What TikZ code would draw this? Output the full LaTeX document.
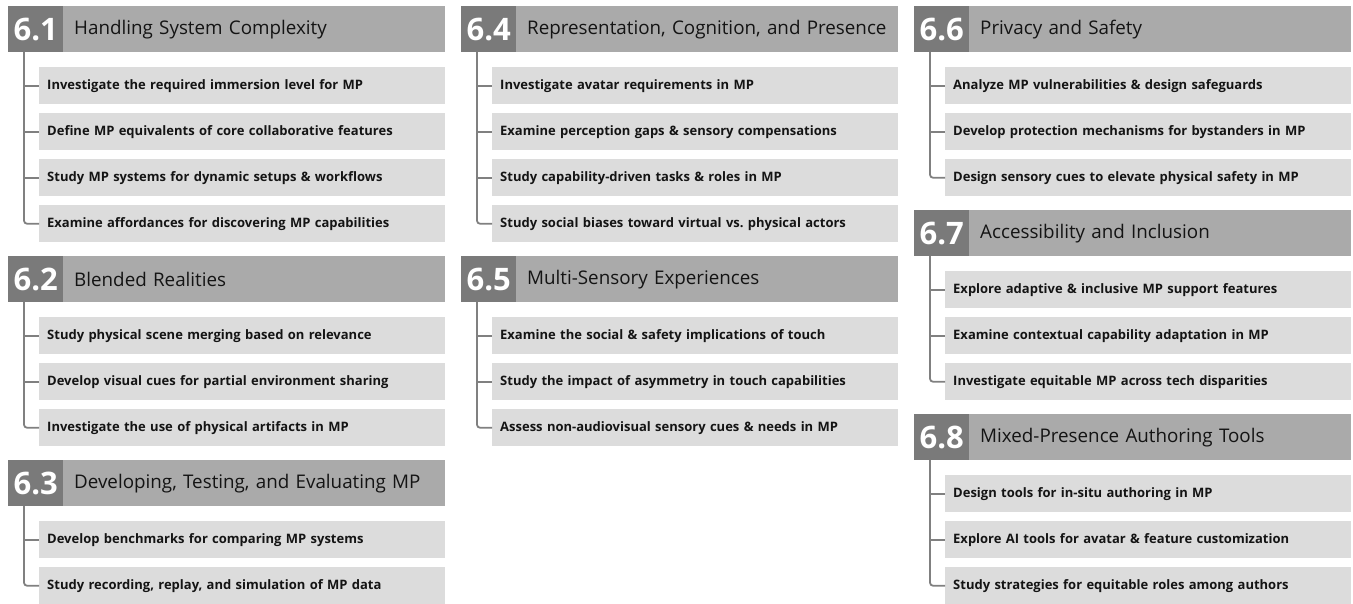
\documentclass[tikz,border=0pt]{standalone}
\usepackage{fontspec}
\setmainfont{Open Sans}
\usepackage{tikz}
\usetikzlibrary{positioning}
\definecolor{numgray}{RGB}{122,122,122}
\definecolor{titlegray}{RGB}{170,170,170}
\definecolor{itemgray}{RGB}{220,220,220}
\definecolor{linegray}{RGB}{128,128,128}
\definecolor{inkgray}{RGB}{20,20,20}
\frenchspacing

\begin{document}
\begin{tikzpicture}[x=1pt, y=-1pt,
    secnum/.style={fill=numgray, text=white, anchor=north west, inner sep=0pt,
      minimum width=55pt, minimum height=46pt, font=\fontsize{31}{31}\selectfont\bfseries},
    sectitle/.style={fill=titlegray, text=inkgray, anchor=north west, inner sep=0pt,
      text width=382pt, minimum height=46pt, align=left, execute at begin node=\hspace*{11pt},
      font=\fontsize{18.8}{18.8}\selectfont},
    itembox/.style={fill=itemgray, text=inkgray, anchor=north west, inner xsep=8pt, inner ysep=0pt,
      text width=390pt, minimum height=37pt, align=left, font=\fontsize{13}{13}\selectfont\bfseries},
    branch/.style={draw=linegray, line width=1.8pt}]
  \useasboundingbox (0,0) rectangle (1353,604);

  % ---- column 1 ----
  \node[secnum] (n61) at (8,6) {6.1};
  \node[sectitle] (s61) at (63,6) {Handling System Complexity};
  \coordinate (t61) at (24,52);
  \foreach \txt [count=\i] in {Investigate the required immersion level for MP,
      Define MP equivalents of core collaborative features,
      Study MP systems for dynamic setups \& workflows,
      Examine affordances for discovering MP capabilities}
    \node[itembox] (i61-\i) at (39,{67+46*(\i-1)}) {\txt};
  \foreach \i in {1,...,3} \draw[branch] (t61 |- i61-\i.west) -- (i61-\i.west);
  \draw[branch, rounded corners=3pt] (t61) |- (i61-4.west);

  \node[secnum] (n62) at (8,256) {6.2};
  \node[sectitle] (s62) at (63,256) {Blended Realities};
  \coordinate (t62) at (24,302);
  \foreach \txt [count=\i] in {Study physical scene merging based on relevance,
      Develop visual cues for partial environment sharing,
      Investigate the use of physical artifacts in MP}
    \node[itembox] (i62-\i) at (39,{317+46*(\i-1)}) {\txt};
  \foreach \i in {1,2} \draw[branch] (t62 |- i62-\i.west) -- (i62-\i.west);
  \draw[branch, rounded corners=3pt] (t62) |- (i62-3.west);

  \node[secnum] (n63) at (8,460) {6.3};
  \node[sectitle] (s63) at (63,460) {Developing, Testing, and Evaluating MP};
  \coordinate (t63) at (24,506);
  \foreach \txt [count=\i] in {Develop benchmarks for comparing MP systems,
      {Study recording, replay, and simulation of MP data}}
    \node[itembox] (i63-\i) at (39,{521+46*(\i-1)}) {\txt};
  \draw[branch] (t63 |- i63-1.west) -- (i63-1.west);
  \draw[branch, rounded corners=3pt] (t63) |- (i63-2.west);

  % ---- column 2 ----
  \node[secnum] (n64) at (461,6) {6.4};
  \node[sectitle] (s64) at (516,6) {Representation, Cognition, and Presence};
  \coordinate (t64) at (477,52);
  \foreach \txt [count=\i] in {Investigate avatar requirements in MP,
      Examine perception gaps \& sensory compensations,
      Study capability-driven tasks \& roles in MP,
      Study social biases toward virtual vs. physical actors}
    \node[itembox] (i64-\i) at (492,{67+46*(\i-1)}) {\txt};
  \foreach \i in {1,...,3} \draw[branch] (t64 |- i64-\i.west) -- (i64-\i.west);
  \draw[branch, rounded corners=3pt] (t64) |- (i64-4.west);

  \node[secnum] (n65) at (461,256) {6.5};
  \node[sectitle] (s65) at (516,256) {Multi-Sensory Experiences};
  \coordinate (t65) at (477,302);
  \foreach \txt [count=\i] in {Examine the social \& safety implications of touch,
      Study the impact of asymmetry in touch capabilities,
      Assess non-audiovisual sensory cues \& needs in MP}
    \node[itembox] (i65-\i) at (492,{317+46*(\i-1)}) {\txt};
  \foreach \i in {1,2} \draw[branch] (t65 |- i65-\i.west) -- (i65-\i.west);
  \draw[branch, rounded corners=3pt] (t65) |- (i65-3.west);

  % ---- column 3 ----
  \node[secnum] (n66) at (914,6) {6.6};
  \node[sectitle] (s66) at (969,6) {Privacy and Safety};
  \coordinate (t66) at (930,52);
  \foreach \txt [count=\i] in {Analyze MP vulnerabilities \& design safeguards,
      Develop protection mechanisms for bystanders in MP,
      Design sensory cues to elevate physical safety in MP}
    \node[itembox] (i66-\i) at (945,{67+46*(\i-1)}) {\txt};
  \foreach \i in {1,2} \draw[branch] (t66 |- i66-\i.west) -- (i66-\i.west);
  \draw[branch, rounded corners=3pt] (t66) |- (i66-3.west);

  \node[secnum] (n67) at (914,210) {6.7};
  \node[sectitle] (s67) at (969,210) {Accessibility and Inclusion};
  \coordinate (t67) at (930,256);
  \foreach \txt [count=\i] in {Explore adaptive \& inclusive MP support features,
      Examine contextual capability adaptation in MP,
      Investigate equitable MP across tech disparities}
    \node[itembox] (i67-\i) at (945,{271+46*(\i-1)}) {\txt};
  \foreach \i in {1,2} \draw[branch] (t67 |- i67-\i.west) -- (i67-\i.west);
  \draw[branch, rounded corners=3pt] (t67) |- (i67-3.west);

  \node[secnum] (n68) at (914,414) {6.8};
  \node[sectitle] (s68) at (969,414) {Mixed-Presence Authoring Tools};
  \coordinate (t68) at (930,460);
  \foreach \txt [count=\i] in {Design tools for in-situ authoring in MP,
      Explore AI tools for avatar \& feature customization,
      Study strategies for equitable roles among authors}
    \node[itembox] (i68-\i) at (945,{475+46*(\i-1)}) {\txt};
  \foreach \i in {1,2} \draw[branch] (t68 |- i68-\i.west) -- (i68-\i.west);
  \draw[branch, rounded corners=3pt] (t68) |- (i68-3.west);
\end{tikzpicture}
\end{document}
